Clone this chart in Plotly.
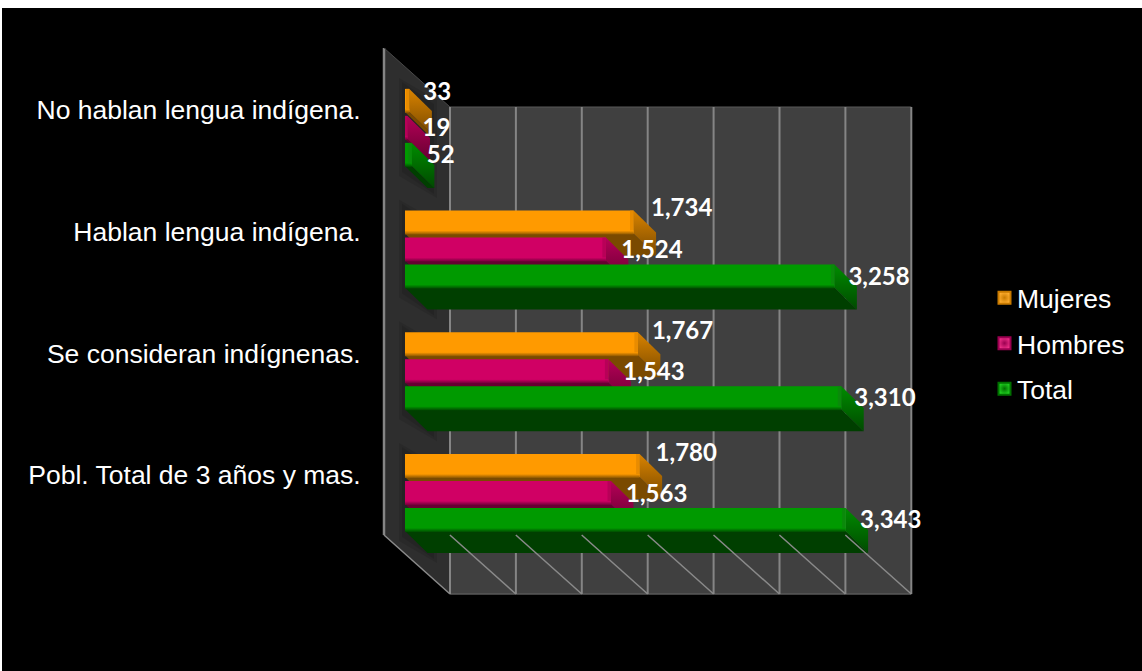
import plotly.graph_objects as go

# ---- data ----
categories = ["Pobl. Total de 3 años y mas.", "Se consideran indígnenas.",
              "Hablan lengua indígena.", "No hablan lengua indígena."]
mujeres = [1780, 1767, 1734, 33]
hombres = [1563, 1543, 1524, 19]
total = [3343, 3310, 3258, 52]
axis_ticks = [0, 500, 1000, 1500, 2000, 2500, 3000, 3500]

# ---- styles: name, values, front colour, bevel colour, bottom face, side top, side bottom, shade ----
series = [
    ("Mujeres", mujeres, "#FF9A00", "#E98C00", "#7A4A00", "#D98300", "#7A4A00", "#8A5500", -21,
     [-20.5, -20, -21.5, -16], [16, 14, 17.5, 14]),
    ("Hombres", hombres, "#D00064", "#B80058", "#660031", "#B50057", "#660031", "#70003A", 6,
     [20.5, 21, 20.5, 20.5], [15, 15, 15.5, 15]),
    ("Total", total, "#009A00", "#0A8A0A", "#003F00", "#008C00", "#004A00", "#004D00", 33,
     [46.5, 47, 47.5, 47.5], [14.5, 13, 14, 15]),
]
legend_fill = {"Mujeres": ("#FFAE30", "#C87A00"), "Hombres": ("#EE2F88", "#9A0050"), "Total": ("#20D020", "#007000")}

# ---- scale geometry (page pixels) ----
FIG_W, FIG_H = 1140, 663
OFF_X, OFF_Y = 2, 8
PLOT_L, PLOT_R, PLOT_T, PLOT_B = 370, 940, 30, 610
ZERO_X, SCALE_X = 405.0, 0.1318
ZERO_Y, SCALE_Y = 475.0, 121.7
BAR_H, DEPTH_X, DEPTH_Y = 23, 22.5, 22


def ux(px):
    return (px - ZERO_X) / SCALE_X


def uy(px):
    return (ZERO_Y - px) / SCALE_Y


fig = go.Figure()


def poly(xs, ys, color=None, grad=None):
    kw = dict(fillcolor=color) if grad is None else dict(
        fillgradient=dict(type="vertical", colorscale=grad))
    fig.add_trace(go.Scatter(x=xs + xs[:1], y=ys + ys[:1], mode="lines", line=dict(width=0),
                             fill="toself", showlegend=False, hoverinfo="skip", **kw))


def line(xs, ys, color, width):
    fig.add_trace(go.Scatter(x=xs, y=ys, mode="lines", line=dict(color=color, width=width),
                             showlegend=False, hoverinfo="skip"))


# walls
vmax = axis_ticks[-1]
back = ux(450)          # data x of value 0 on the back wall
front = ux(384)         # data x of value 0 on the front edge
poly([back, back + vmax, back + vmax, back], [uy(107), uy(107), uy(594), uy(594)], "#404040")
poly([front, back, back, front], [uy(48), uy(107), uy(594), uy(535)], "#2E2E2E")

# shadows on the side wall
for i in range(4):
    cy = ZERO_Y - i * SCALE_Y
    poly([ux(399), ux(437), ux(437), ux(399)], [uy(cy - 32), uy(cy - 10), uy(cy + 88), uy(cy + 66)], "rgba(0,0,0,0.10)")
    poly([ux(402), ux(434), ux(434), ux(402)], [uy(cy - 28), uy(cy - 6), uy(cy + 84), uy(cy + 62)], "rgba(0,0,0,0.10)")

# back wall edges and grid
line([back, back + vmax], [uy(107), uy(107)], "#585858", 1)
line([back, back + vmax], [uy(594), uy(594)], "#585858", 1.5)
for t in axis_ticks:
    line([back + t, back + t], [uy(107), uy(594)], "#858585", 2)
line([front, front], [uy(48), uy(535)], "#858585", 2.5)
line([front, back], [uy(48), uy(107)], "#484848", 1)

# bars
for name, values, c_front, c_bevel, c_bottom, c_st, c_sb, c_shade, off, *_ in series:
    for i, v in enumerate(values):
        cy = ZERO_Y - i * SCALE_Y
        top = cy + off
        bot = top + BAR_H
        dx = DEPTH_X / SCALE_X
        # bottom face
        poly([0, v, v + dx, dx], [uy(bot), uy(bot), uy(bot + DEPTH_Y), uy(bot + DEPTH_Y)], c_bottom)
        # end face
        poly([v, v + dx, v + dx, v], [uy(top), uy(top + DEPTH_Y), uy(bot + DEPTH_Y), uy(bot)],
             grad=[[0, c_sb], [1, c_st]])
        # front face
        poly([0, v, v, 0], [uy(top), uy(top), uy(bot), uy(bot)], c_front)
        # bevels
        bevel_w = min(3.5 / SCALE_X, v)
        poly([v - bevel_w, v, v, v - bevel_w], [uy(top), uy(top), uy(bot), uy(bot)], c_bevel)
        poly([0, v, v, 0], [uy(bot - 3), uy(bot - 3), uy(bot + 1), uy(bot + 1)],
             grad=[[0, c_shade], [1, c_front]])

# floor lines, drawn over the bars
for t in axis_ticks:
    line([front + t, back + t], [uy(535), uy(594)], "#8A8A8A", 1.5)

# value labels
for name, values, *_rest, label_dy, label_dx in series:
    fig.add_trace(go.Scatter(
        x=[v + label_dx[i] / SCALE_X for i, v in enumerate(values)],
        y=[uy(ZERO_Y - i * SCALE_Y + label_dy[i]) for i in range(4)],
        mode="text", text=[f"{v:,}" for v in values], textposition="middle right",
        textfont=dict(family="Lato", size=24, color="white", weight="bold"),
        showlegend=False, hoverinfo="skip"))

# legend entries
for name, *_rest in series:
    inner, outer = legend_fill[name]
    fig.add_trace(go.Scatter(
        x=[None], y=[None], mode="markers", name=name, legendgroup=name,
        marker=dict(symbol="square", size=16, color=inner,
                    gradient=dict(type="radial", color=outer),
                    line=dict(color=outer, width=0.5))))

fig.update_layout(
    width=FIG_W, height=FIG_H, autosize=False,
    paper_bgcolor="#000000", plot_bgcolor="#000000",
    margin=dict(l=PLOT_L - OFF_X, r=FIG_W + OFF_X - PLOT_R, t=PLOT_T - OFF_Y, b=FIG_H + OFF_Y - PLOT_B, pad=0),
    xaxis=dict(range=[ux(PLOT_L), ux(PLOT_R)], visible=False, fixedrange=True),
    yaxis=dict(range=[uy(PLOT_B), uy(PLOT_T)], tickmode="array", tickvals=list(range(4)), ticktext=categories,
               ticks="outside", ticklen=3, tickcolor="#000000", showgrid=False, zeroline=False, showline=False,
               tickfont=dict(family="Liberation Sans", size=26.5, color="white"), fixedrange=True),
    font=dict(family="Liberation Sans", color="white"),
    legend=dict(xref="container", yref="container", x=(977 - OFF_X) / FIG_W, y=1 - (274 - OFF_Y) / FIG_H,
                xanchor="left", yanchor="top", font=dict(family="Liberation Sans", size=26.5, color="white"),
                traceorder="grouped", tracegroupgap=8, itemsizing="constant", bgcolor="rgba(0,0,0,0)"),
    showlegend=True,
)

post = """
document.body.style.margin = '8px 0 0 2px';
document.body.style.overflow = 'hidden';
document.body.style.background = '#ffffff';
document.querySelectorAll('.legend .legendpoints').forEach(function (el) {
    el.setAttribute('transform', 'translate(7.5,0)');
});
"""
fig.write_html("out.html", post_script=post, config=dict(displayModeBar=False))
